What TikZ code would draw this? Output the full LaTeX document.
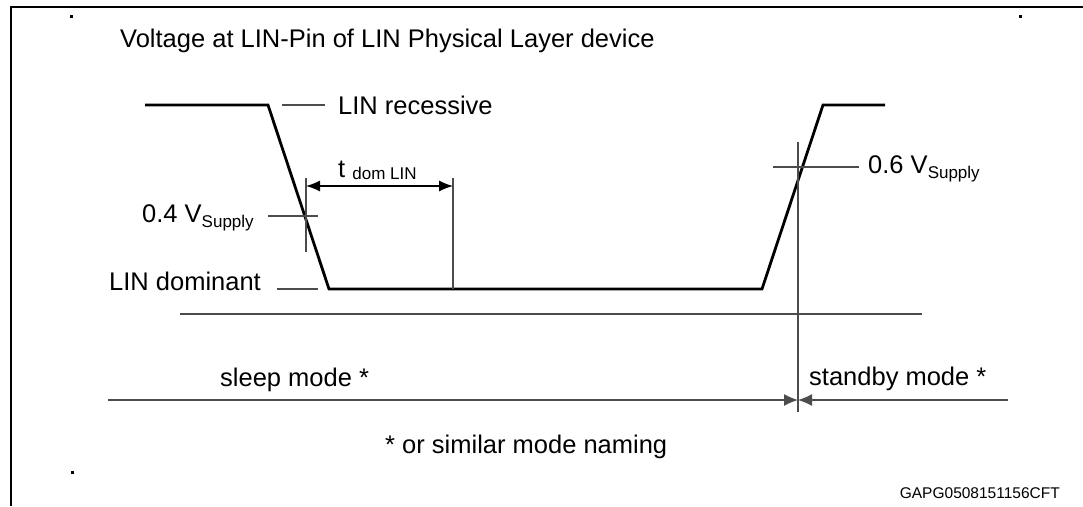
\documentclass[tikz,border=0pt]{standalone}
\usepackage{fontspec}
\setmainfont{Liberation Sans}
\usetikzlibrary{arrows.meta}
\tikzset{
  lbl/.style={font=\fontsize{25.5}{30}\selectfont, inner sep=0pt, anchor=base west},
  smalllbl/.style={font=\fontsize{15.5}{18}\selectfont, inner sep=0pt, anchor=base east},
  wave/.style={line width=2.8pt, line join=miter, black},
  guide/.style={line width=1.2pt, draw=black!70},
  frameline/.style={line width=2.6pt, black},
  dimarrow/.style={guide, draw=black, {Latex[length=14pt,width=11pt]}-{Latex[length=14pt,width=11pt]}},
  meetarrow/.style={guide, -{Latex[length=14pt,width=12pt]}}
}
\newcommand{\subsup}[1]{\raisebox{-0.22em}{\fontsize{17}{20}\selectfont #1}}
\begin{document}
\begin{tikzpicture}[x=1pt,y=-1pt]
\useasboundingbox (0,0) rectangle (1083,506);
\fill[white] (0,0) rectangle (1083,506);

% frame
\coordinate (fTL) at (11,7);
\coordinate (fTR) at (1083,7);
\coordinate (fBL) at (11,506);
\draw[frameline] (fTR) -- (fTL) -- (fBL);

% tiny dots
\fill (70,15) rectangle (72.5,17.5);
\fill (1019,15) rectangle (1021.5,17.5);
\fill (71,471) rectangle (73.5,473.5);

% title
\node[lbl] (title) at (120,47) {Voltage at LIN-Pin of LIN Physical Layer device};

% waveform
\coordinate (w0) at (145,105);
\coordinate (w1) at (268,105);
\coordinate (w2) at (329,289);
\coordinate (w3) at (762,289);
\coordinate (w4) at (823,105);
\coordinate (w5) at (885,105);
\draw[wave] (w0) -- (w1) -- (w2) -- (w3) -- (w4) -- (w5);

% LIN recessive
\coordinate (recA) at (282,105);
\coordinate (recB) at (325,105);
\draw[guide] (recA) -- (recB);
\node[lbl] (rec) at (338,114) {LIN recessive};

% LIN dominant
\coordinate (domA) at (277,289);
\coordinate (domB) at (318,289);
\draw[guide] (domA) -- (domB);
\node[lbl] (dom) at (109,290) {LIN dominant};

% 0.4 Vsupply
\coordinate (p4a) at (268,216);
\coordinate (p4b) at (318,216);
\draw[guide] (p4a) -- (p4b);
\coordinate (v4top) at (306,178);
\coordinate (v4bot) at (306,252);
\draw[guide] (v4top) -- (v4bot);
\node[lbl] (lab04) at (142,222) {0.4 V\subsup{Supply}};

% t dom LIN
\coordinate (tdR) at (453,178);
\coordinate (tdRb) at (453,289);
\draw[guide] (tdR) -- (tdRb);
\coordinate (arrL) at (306,186);
\coordinate (arrR) at (453,186);
\draw[dimarrow] (arrL) -- (arrR);
\node[lbl] (tdom) at (338,177) {t \raisebox{-0.1em}{\fontsize{17}{20}\selectfont dom LIN}};

% 0.6 Vsupply
\coordinate (p6a) at (773,167);
\coordinate (p6b) at (859,167);
\draw[guide] (p6a) -- (p6b);
\coordinate (v6top) at (798,142);
\coordinate (v6bot) at (798,412);
\draw[guide] (v6top) -- (v6bot);
\node[lbl] (lab06) at (868,173) {0.6 V\subsup{Supply}};

% separator
\coordinate (sepL) at (180,314);
\coordinate (sepR) at (922,314);
\draw[guide] (sepL) -- (sepR);

% modes line
\coordinate (mL) at (108,400);
\coordinate (mM) at (798,400);
\coordinate (mR) at (1008,400);
\draw[meetarrow] (mL) -- (mM);
\draw[meetarrow] (mR) -- (mM);
\node[lbl] (sleep) at (220,386) {sleep mode *};
\node[lbl] (standby) at (809,385) {standby mode *};

\node[lbl] (note) at (385,453) {* or similar mode naming};
\node[smalllbl] (code) at (1060,498) {GAPG0508151156CFT};
\end{tikzpicture}
\end{document}
